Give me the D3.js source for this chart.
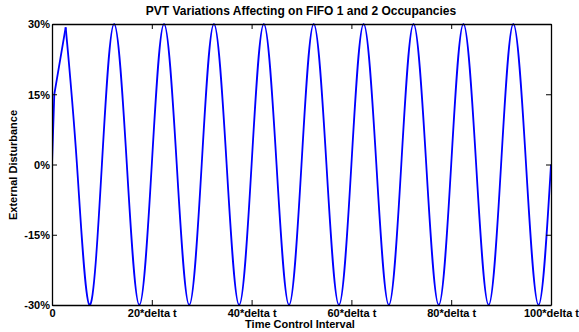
<!DOCTYPE html>
<html><head><meta charset="utf-8">
<script src="https://cdn.jsdelivr.net/npm/d3@7/dist/d3.min.js"></script>
<style>body{margin:0;background:#fff}svg{display:block}text{font-family:"Liberation Sans",Arial,sans-serif;font-weight:bold;fill:#000}</style>
</head><body>
<svg id="c" width="579" height="332"></svg>
<script>
// Data
const headT = [0, 0.46, 2.74];
const headV = [0, 15, 29.3];
const waveT = [2.74, 5, 7.5, 10, 12.45, 15, 17.5, 20, 22.45, 25, 27.5, 30, 32.45, 35, 37.5, 40, 42.45, 45, 47.5, 50, 52.45, 55, 57.5, 60, 62.45, 65, 67.5, 70, 72.45, 75, 77.5, 80, 82.45, 85, 87.5, 90, 92.45, 95, 97.5, 100];
const waveV = [29.3, 0, -30, 0, 30, 0, -30, 0, 30, 0, -30, 0, 30, 0, -30, 0, 30, 0, -30, 0, 30, 0, -30, 0, 30, 0, -30, 0, 30, 0, -30, 0, 30, 0, -30, 0, 30, 0, -30, 0];
const xTicks = [0, 20, 40, 60, 80, 100];
const xTickLabels = ["0", "20*delta t", "40*delta t", "60*delta t", "80*delta t", "100*delta t"];
const yTicks = [-30, -15, 0, 15, 30];
const yTickLabels = ["-30%", "-15%", "0%", "15%", "30%"];

const svg = d3.select("#c");
const L = 52, R = 551, T = 24, B = 305;
const x = d3.scaleLinear().domain([0, 100]).range([L, R]);
const y = d3.scaleLinear().domain([-30, 30]).range([B, T]);

// curve
const clip = svg.append("clipPath").attr("id","cp").append("rect").attr("x",L).attr("y",T-2).attr("width",R-L).attr("height",B-T+4);
const g = svg.append("g").attr("clip-path","url(#cp)");
const lineLin = d3.line().x(d=>x(d[0])).y(d=>y(d[1])).curve(d3.curveLinear);
const lineNat = d3.line().x(d=>x(d[0])).y(d=>y(d[1])).curve(d3.curveNatural);
g.append("path").attr("d", lineLin(d3.zip(headT, headV))).attr("fill","none").attr("stroke","#0000ff").attr("stroke-width",1.8);
g.append("path").attr("d", lineNat(d3.zip(waveT, waveV))).attr("fill","none").attr("stroke","#0000ff").attr("stroke-width",1.8);

// axes (inward ticks, box)
const tl = 5;
const axB = svg.append("g").attr("transform",`translate(0,${B})`).call(d3.axisBottom(x).tickValues(xTicks).tickSizeInner(-tl).tickSizeOuter(0).tickFormat((d,i)=>xTickLabels[i]));
const axT = svg.append("g").attr("transform",`translate(0,${T})`).call(d3.axisTop(x).tickValues(xTicks).tickSizeInner(-tl).tickSizeOuter(0).tickFormat(""));
const axL = svg.append("g").attr("transform",`translate(${L},0)`).call(d3.axisLeft(y).tickValues(yTicks).tickSizeInner(-tl).tickSizeOuter(0).tickFormat((d,i)=>yTickLabels[i]));
const axR = svg.append("g").attr("transform",`translate(${R},0)`).call(d3.axisRight(y).tickValues(yTicks).tickSizeInner(-tl).tickSizeOuter(0).tickFormat(""));
[axB,axT,axL,axR].forEach(a=>{
  a.select(".domain").attr("stroke","#000").attr("stroke-width",1.3);
  a.selectAll(".tick line").attr("stroke","#000").attr("stroke-width",1);
  a.selectAll("text").attr("font-family",null).attr("font-size",null).style("font-size","11px");
});
axB.selectAll(".tick text").attr("dy",null).attr("y",12);
axL.selectAll(".tick text").attr("x",-2).attr("dy","0.35em");

svg.append("text").attr("x",301).attr("y",15).attr("text-anchor","middle").style("font-size","12px").text("PVT Variations Affecting on FIFO 1 and 2 Occupancies");
svg.append("text").attr("x",300).attr("y",328).attr("text-anchor","middle").style("font-size","11px").text("Time Control Interval");
svg.append("text").attr("transform","translate(17,165) rotate(-90)").attr("text-anchor","middle").style("font-size","11px").text("External Disturbance");
</script>
</body></html>
